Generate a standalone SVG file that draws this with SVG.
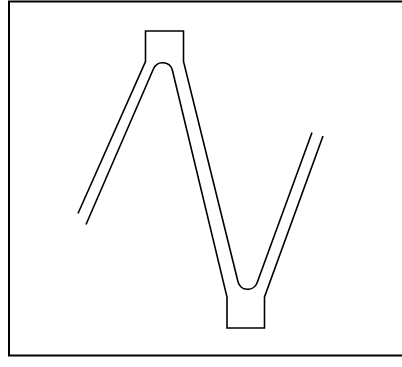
<svg xmlns="http://www.w3.org/2000/svg" width="402" height="367" viewBox="0 0 402 367">
<style>
.frame{fill:none;stroke:#000;stroke-width:2}
.edge{fill:none;stroke:#000;stroke-width:1.6;stroke-linejoin:miter;stroke-linecap:butt}
</style>
<rect width="402" height="367" fill="#fff"/>
<rect class="frame" x="9" y="1.5" width="400" height="354"/>
<g id="ribbon">
<path id="upper-edge" class="edge" d="M78,213.5 L145.5,61.5 V31 H183.5 V61.5 L238,281.7 A10,10 0 0 0 257.1,282.8 L312,132.5"/>
<path id="lower-edge" class="edge" d="M86,224.5 L153.5,68.8 A10,10 0 0 1 172.4,70.3 L227,297 V328 H264.5 V297 L323,136"/>
</g>
</svg>
